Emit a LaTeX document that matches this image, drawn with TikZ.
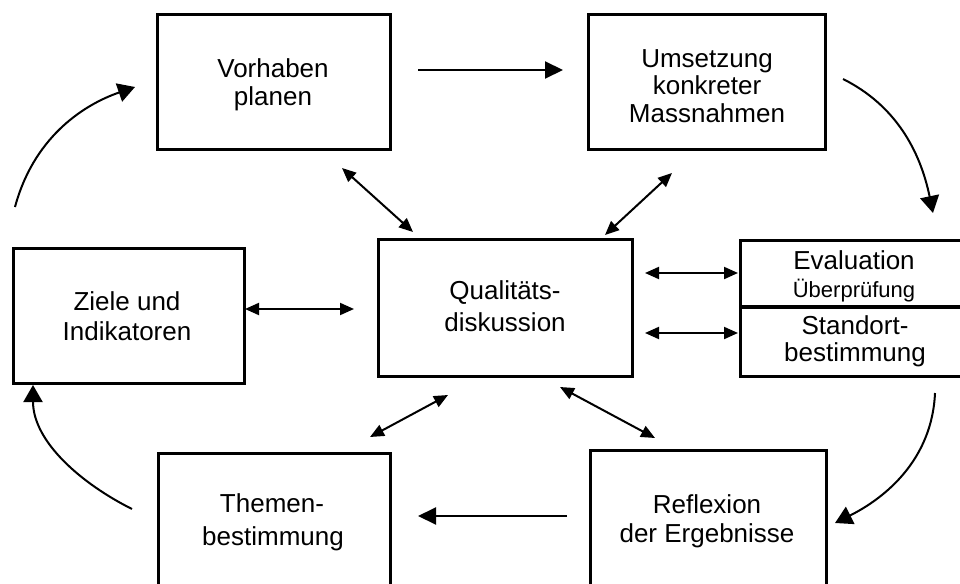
\documentclass[tikz,border=0pt]{standalone}
\usepackage{fontspec}
\setmainfont{Liberation Sans}
\usetikzlibrary{arrows.meta}
\begin{document}
\begin{tikzpicture}[x=1pt,y=-1pt,
  boxst/.style={draw, line width=3pt, inner sep=0pt},
  txt/.style={font=\fontsize{26}{30}\selectfont, inner sep=0pt, anchor=base},
  smalltxt/.style={font=\fontsize{22}{26}\selectfont, inner sep=0pt, anchor=base},
  con/.style={line width=2pt},
  big/.style={con, -{Triangle[length=18pt,width=17pt]}},
  curv/.style={con, -{Triangle[length=17pt,width=19pt]}},
  dbl/.style={con, {Triangle[length=14pt,width=12pt]}-{Triangle[length=14pt,width=12pt]}}]
\clip (0,0) rectangle (960,583);
\fill[white] (0,0) rectangle (960,583);

% boxes
\node[boxst, minimum width=233pt, minimum height=134pt] (V) at (273.5,82) {};
\node[boxst, minimum width=237pt, minimum height=134pt] (U) at (706.5,82) {};
\node[boxst, minimum width=231pt, minimum height=135pt] (Z) at (128.5,315.5) {};
\node[boxst, minimum width=254pt, minimum height=137pt] (Q) at (505,307.5) {};
\node[boxst, minimum width=240pt, minimum height=136pt, anchor=north west] (E) at (739,239) {};
\node[boxst, minimum width=232pt, minimum height=140pt, anchor=north west] (T) at (157,452) {};
\node[boxst, minimum width=236pt, minimum height=140pt, anchor=north west] (R) at (589,449) {};
\coordinate (Ediv1) at (739,307);
\coordinate (Ediv2) at (979,307);
\draw[line width=4pt] (Ediv1) -- (Ediv2);

% texts
\node[txt] (V1) at (273,78) {Vorhaben};
\node[txt] (V2) at (273,106) {planen};
\node[txt] (U1) at (707,68) {Umsetzung};
\node[txt] (U2) at (707,95) {konkreter};
\node[txt] (U3) at (707,122) {Massnahmen};
\node[txt] (Z1) at (127,310) {Ziele und};
\node[txt] (Z2) at (127,340) {Indikatoren};
\node[txt] (Q1) at (505,299) {Qualitäts-};
\node[txt] (Q2) at (505,331) {diskussion};
\node[txt] (E1) at (854,269) {Evaluation};
\node[smalltxt] (E2) at (854,297) {Überprüfung};
\node[txt] (E3) at (855,334) {Standort-};
\node[txt] (E4) at (855,361) {bestimmung};
\node[txt] (T1) at (272,512) {Themen-};
\node[txt] (T2) at (273,545) {bestimmung};
\node[txt] (R1) at (707,513) {Reflexion};
\node[txt] (R2) at (707,542) {der Ergebnisse};

% connector end points
\coordinate (vu1) at (418,70);  \coordinate (vu2) at (563,70);
\coordinate (rt1) at (567,516); \coordinate (rt2) at (418,516);
\coordinate (zq1) at (245,309); \coordinate (zq2) at (354,309);
\coordinate (qe1) at (645,273); \coordinate (qe2) at (738,273);
\coordinate (qe3) at (645,333); \coordinate (qe4) at (738,333);
\coordinate (vq1) at (342,168); \coordinate (vq2) at (413,232);
\coordinate (uq1) at (672,173); \coordinate (uq2) at (605,235);
\coordinate (qt1) at (448,395); \coordinate (qt2) at (370,437);
\coordinate (qr1) at (560,387); \coordinate (qr2) at (655,438);
\coordinate (zv1) at (15,207);  \coordinate (zv2) at (135,87);
\coordinate (ue1) at (843,79);  \coordinate (ue2) at (933,213);
\coordinate (er1) at (935,393); \coordinate (er2) at (835,523);
\coordinate (tz1) at (132,509); \coordinate (tz2) at (33,385);

% straight arrows
\draw[big] (vu1) -- (vu2);
\draw[big] (rt1) -- (rt2);
\draw[dbl] (zq1) -- (zq2);
\draw[dbl] (qe1) -- (qe2);
\draw[dbl] (qe3) -- (qe4);
\draw[dbl] (vq1) -- (vq2);
\draw[dbl] (uq1) -- (uq2);
\draw[dbl] (qt1) -- (qt2);
\draw[dbl] (qr1) -- (qr2);

% curved arrows
\draw[curv] (zv1) .. controls (33,140) and (80,106) .. (zv2);
\draw[curv] (ue1) .. controls (895,105) and (920,150) .. (ue2);
\draw[curv] (er1) .. controls (932,460) and (885,498) .. (er2);
\draw[curv] (tz1) .. controls (82,484) and (33,442) .. (tz2);
\end{tikzpicture}
\end{document}
